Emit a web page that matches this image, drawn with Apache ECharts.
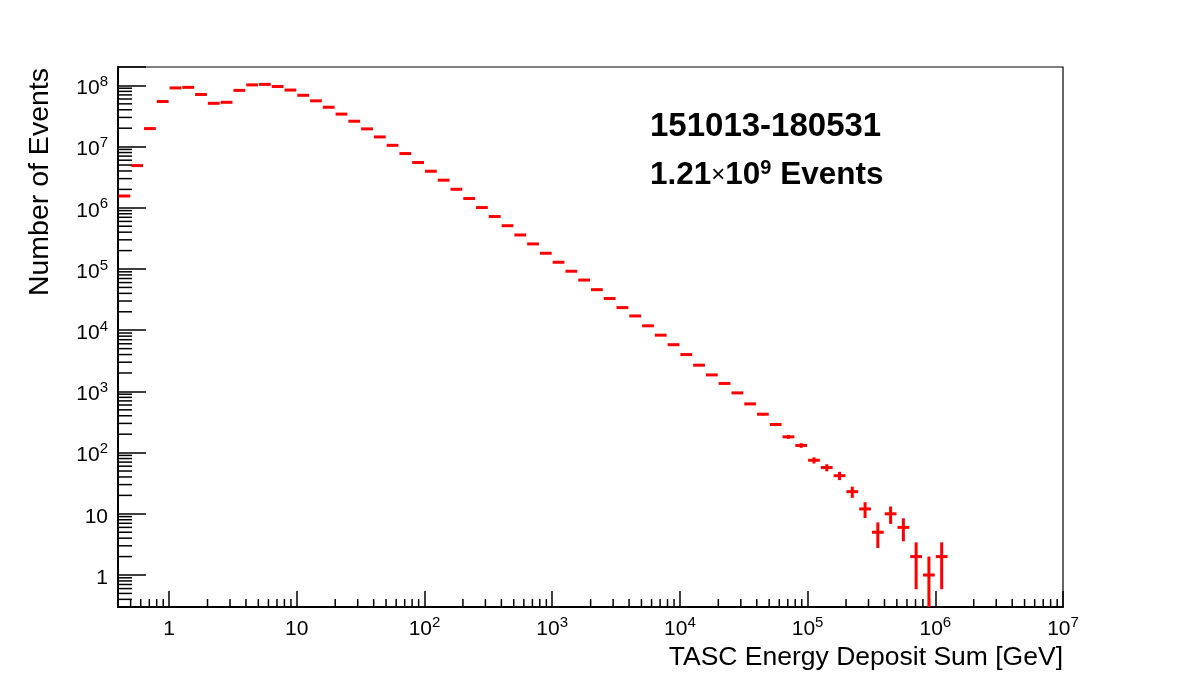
<!DOCTYPE html>
<html>
<head>
<meta charset="utf-8">
<title>TASC Energy Deposit Sum</title>
<script src="https://cdn.jsdelivr.net/npm/echarts@6/dist/echarts.min.js"></script>
<style>
html, body { margin: 0; padding: 0; background: #fff; }
#chart { width: 1182px; height: 675px; }
</style>
</head>
<body>
<div id="chart"></div>
<script>
// histogram binning: 0.1 decade per bin, first bin starts at 10^-0.4 GeV
const binStartLog = -0.4;
const binStepLog = 0.1;
// events per bin
const counts = [
	1.56e6, 4.9e6, 1.97e7, 5.46e7, 9.1e7, 9.3e7, 7.1e7, 5.1e7, 5.3e7, 8.3e7,
	1.02e8, 1.04e8, 9.6e7, 8.4e7, 6.9e7, 5.6e7, 4.4e7, 3.4e7, 2.6e7, 1.95e7,
	1.44e7, 1.05e7, 7.7e6, 5.5e6, 3.96e6, 2.83e6, 2.01e6, 1.42e6, 1.01e6, 7.2e5,
	5.1e5, 3.6e5, 2.57e5, 1.81e5, 1.29e5, 9.2e4, 6.6e4, 4.6e4, 3.3e4, 2.34e4,
	1.71e4, 1.18e4, 8300, 5800, 4000, 2680, 1860, 1350, 946, 625,
	424, 288, 181, 131, 75, 57, 42, 23, 12, 5,
	10, 6, 2, 1, 2
];
const xRange = [Math.pow(10, -0.4), 1e7];
const yRange = [0.3, 2e8];
const minorMantissas = [2, 3, 4, 5, 6, 7, 8, 9];
const xDecades = [-1, 0, 1, 2, 3, 4, 5, 6];
const yDecades = [-1, 0, 1, 2, 3, 4, 5, 6, 7, 8];
const infoLines = ['151013-180531', '1.21{times|×}10{sup|9} Events'];

const font = 'Liberation Sans, Arial, Helvetica, sans-serif';

function powLabel(v) {
	const l = Math.log10(v), e = Math.round(l);
	if (Math.abs(l - e) > 1e-6) return '';
	if (e === 0) return '1';
	if (e === 1) return '10';
	return '10{sup|' + e + '}';
}

function minorTicks(decades, range) {
	const out = [];
	decades.forEach(d => {
		minorMantissas.forEach(m => {
			const v = m * Math.pow(10, d);
			if (v > range[0] && v < range[1]) out.push(v);
		});
	});
	return out;
}

const histData = counts.map((n, i) => {
	const lo = binStartLog + i * binStepLog;
	return [Math.pow(10, lo), n, Math.pow(10, lo + binStepLog), Math.pow(10, lo + binStepLog / 2), Math.sqrt(n)];
});

const labelRich = {
	sup: { fontSize: 15, fontFamily: font, color: '#000', verticalAlign: 'top', lineHeight: 12 }
};

let chart = echarts.init(document.getElementById('chart'));

chart.setOption({
	backgroundColor: '#fff',
	animation: false,
	grid: {
		left: 118,
		right: 119,
		top: 67,
		bottom: 68,
		show: true,
		borderColor: '#000',
		borderWidth: 1.2
	},
	xAxis: {
		type: 'log',
		logBase: 10,
		min: xRange[0],
		max: xRange[1],
		splitNumber: 10,
		axisLine: { onZero: false, lineStyle: { color: '#000', width: 2 } },
		axisTick: { inside: true, length: 16, lineStyle: { color: '#000', width: 1.5 } },
		splitLine: { show: false },
		axisLabel: {
			formatter: powLabel,
			color: '#000',
			fontSize: 21,
			fontFamily: font,
			lineHeight: 28,
			margin: 8,
			rich: labelRich
		}
	},
	yAxis: {
		type: 'log',
		logBase: 10,
		min: yRange[0],
		max: yRange[1],
		splitNumber: 10,
		axisLine: { lineStyle: { color: '#000', width: 2 } },
		axisTick: { inside: true, length: 28, lineStyle: { color: '#000', width: 1.5 } },
		splitLine: { show: false },
		axisLabel: {
			formatter: powLabel,
			color: '#000',
			fontSize: 21,
			fontFamily: font,
			lineHeight: 28,
			padding: [6, 0, 0, 0],
			margin: 10,
			rich: labelRich
		}
	},
	graphic: [
		{
			type: 'text',
			x: 1063,
			y: 658,
			style: {
				text: 'TASC Energy Deposit Sum [GeV]',
				font: '26.5px ' + font,
				fill: '#000',
				align: 'right',
				verticalAlign: 'middle'
			}
		},
		{
			type: 'text',
			x: 40,
			y: 68,
			rotation: Math.PI / 2,
			style: {
				text: 'Number of Events',
				font: '28.5px ' + font,
				fill: '#000',
				align: 'right',
				verticalAlign: 'middle'
			}
		},
		{
			type: 'text',
			x: 650,
			y: 127,
			style: {
				text: infoLines[0],
				font: 'bold 33px ' + font,
				fill: '#000',
				verticalAlign: 'middle'
			}
		},
		{
			type: 'text',
			x: 650,
			y: 175,
			style: {
				text: infoLines[1],
				font: 'bold 31.5px ' + font,
				fill: '#000',
				verticalAlign: 'middle',
				rich: {
					times: { font: '24px ' + font, fill: '#000', lineHeight: 34 },
					sup: { font: 'bold 20px ' + font, fill: '#000', verticalAlign: 'top', lineHeight: 18 }
				}
			}
		}
	],
	series: [
		{
			// ROOT style minor ticks at 2..9 x 10^n on the x axis
			type: 'custom',
			silent: true,
			clip: false,
			data: minorTicks(xDecades, xRange).map(v => [v, yRange[0]]),
			encode: { x: 0, y: 1 },
			renderItem(params, api) {
				const p = api.coord([api.value(0), api.value(1)]);
				return {
					type: 'line',
					shape: { x1: p[0], y1: p[1], x2: p[0], y2: p[1] - 8 },
					style: { stroke: '#000', lineWidth: 1.5 }
				};
			}
		},
		{
			type: 'custom',
			silent: true,
			clip: false,
			data: minorTicks(yDecades, yRange).map(v => [xRange[0], v]),
			encode: { x: 0, y: 1 },
			renderItem(params, api) {
				const p = api.coord([api.value(0), api.value(1)]);
				return {
					type: 'line',
					shape: { x1: p[0], y1: p[1], x2: p[0] + 14, y2: p[1] },
					style: { stroke: '#000', lineWidth: 1.5 }
				};
			}
		},
		{
			// histogram points: horizontal bar = bin width, vertical bar = sqrt(N)
			type: 'custom',
			name: 'events',
			data: histData,
			encode: { x: 0, y: 1 },
			renderItem(params, api) {
				const n = api.value(1), err = api.value(4);
				const left = api.coord([api.value(0), n]);
				const right = api.coord([api.value(2), n]);
				const top = api.coord([api.value(3), n + err]);
				const bot = api.coord([api.value(3), Math.max(n - err, yRange[0])]);
				const style = { stroke: '#ff0000', lineWidth: 3 };
				return {
					type: 'group',
					children: [
						{ type: 'line', shape: { x1: left[0] + 0.5, y1: left[1], x2: right[0] - 0.5, y2: right[1] }, style },
						{ type: 'line', shape: { x1: top[0], y1: top[1], x2: bot[0], y2: bot[1] }, style }
					]
				};
			}
		}
	]
});
</script>
</body>
</html>
